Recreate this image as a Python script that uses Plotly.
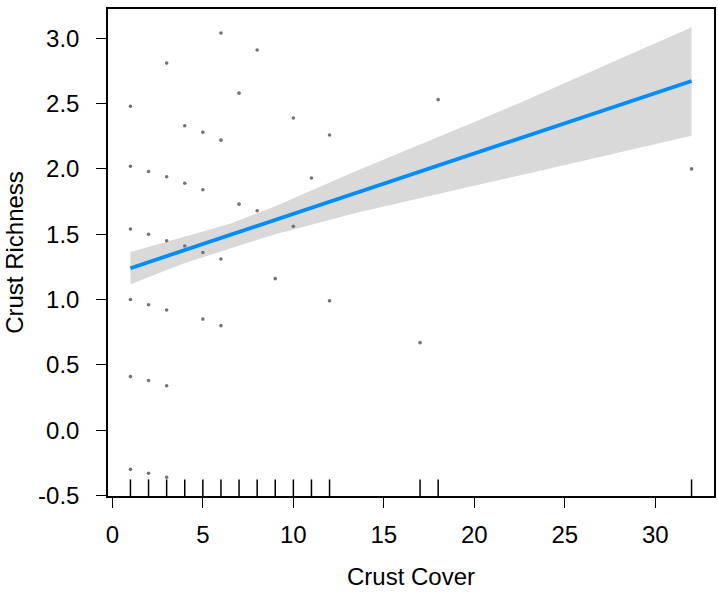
import plotly.graph_objects as go

# Partial residuals: crust cover (x) vs crust richness (y)
cover = [1, 1, 1, 1, 1, 1,
         2, 2, 2, 2, 2,
         3, 3, 3, 3, 3, 3,
         4, 4, 4,
         5, 5, 5, 5,
         6, 6, 6, 6,
         7, 7,
         8, 8,
         9,
         10, 10,
         11,
         12, 12,
         17, 18, 32]
richness = [2.48, 2.02, 1.54, 1.00, 0.41, -0.30,
            1.98, 1.50, 0.96, 0.38, -0.33,
            2.81, 1.94, 1.45, 0.92, 0.34, -0.36,
            2.33, 1.89, 1.41,
            2.28, 1.84, 1.36, 0.85,
            3.04, 2.22, 1.31, 0.80,
            2.58, 1.73,
            2.91, 1.68,
            1.16,
            2.39, 1.56,
            1.93,
            2.26, 0.99,
            0.67, 2.53, 2.00]

# Fitted line and its confidence band
fit_x = [1, 32]
fit_y = [1.240, 2.673]
band_x = [1, 4, 6.5, 9, 13.5, 19.5, 22.5, 32]
band_lo = [1.117, 1.28, 1.39, 1.50, 1.665, 1.855, 1.95, 2.253]
band_hi = [1.363, 1.48, 1.58, 1.715, 1.985, 2.33, 2.505, 3.084]

x_ticks = [0, 5, 10, 15, 20, 25, 30]
y_ticks = [-0.5, 0.0, 0.5, 1.0, 1.5, 2.0, 2.5, 3.0]

FONT = "Liberation Sans, Arial, sans-serif"
FS = 24

fig = go.Figure()

fig.add_trace(go.Scatter(
    x=band_x + band_x[::-1],
    y=band_hi + band_lo[::-1],
    fill="toself", fillcolor="#D9D9D9",
    line=dict(width=0), mode="lines", hoverinfo="skip",
))
fig.add_trace(go.Scatter(
    x=fit_x, y=fit_y, mode="lines",
    line=dict(color="#008DFF", width=3.8),
))
fig.add_trace(go.Scatter(
    x=cover, y=richness, mode="markers",
    marker=dict(color="#737373", size=3.6, symbol="circle"),
))

# Rug marks along the bottom of the plot
for xv in sorted(set(cover)):
    fig.add_shape(type="line", xref="x", yref="y domain",
                  x0=xv, x1=xv, y0=0, y1=0.034,
                  line=dict(color="black", width=1.5))

fig.update_layout(
    width=718, height=604,
    margin=dict(l=108, r=2, t=9, b=108),
    paper_bgcolor="white", plot_bgcolor="white",
    showlegend=False,
    font=dict(family=FONT, size=FS, color="black"),
)
fig.update_xaxes(
    range=[-0.24, 33.24], tickvals=x_ticks,
    ticktext=[str(v) for v in x_ticks],
    showgrid=False, zeroline=False,
    showline=True, linecolor="black", linewidth=1.5, mirror=True,
    ticks="outside", ticklen=10, tickwidth=1.3, tickcolor="black",
    ticklabelstandoff=6,
    title=dict(text="Crust Cover", font=dict(size=FS), standoff=22),
)
fig.update_yaxes(
    range=[-0.504, 3.224], tickvals=y_ticks,
    ticktext=[f"{v:.1f}" for v in y_ticks],
    showgrid=False, zeroline=False,
    showline=True, linecolor="black", linewidth=1.5, mirror=True,
    ticks="outside", ticklen=10, tickwidth=1.3, tickcolor="black",
    ticklabelstandoff=12,
    title=dict(text="Crust Richness", font=dict(size=FS), standoff=8),
)

fig.write_html("out.html")
